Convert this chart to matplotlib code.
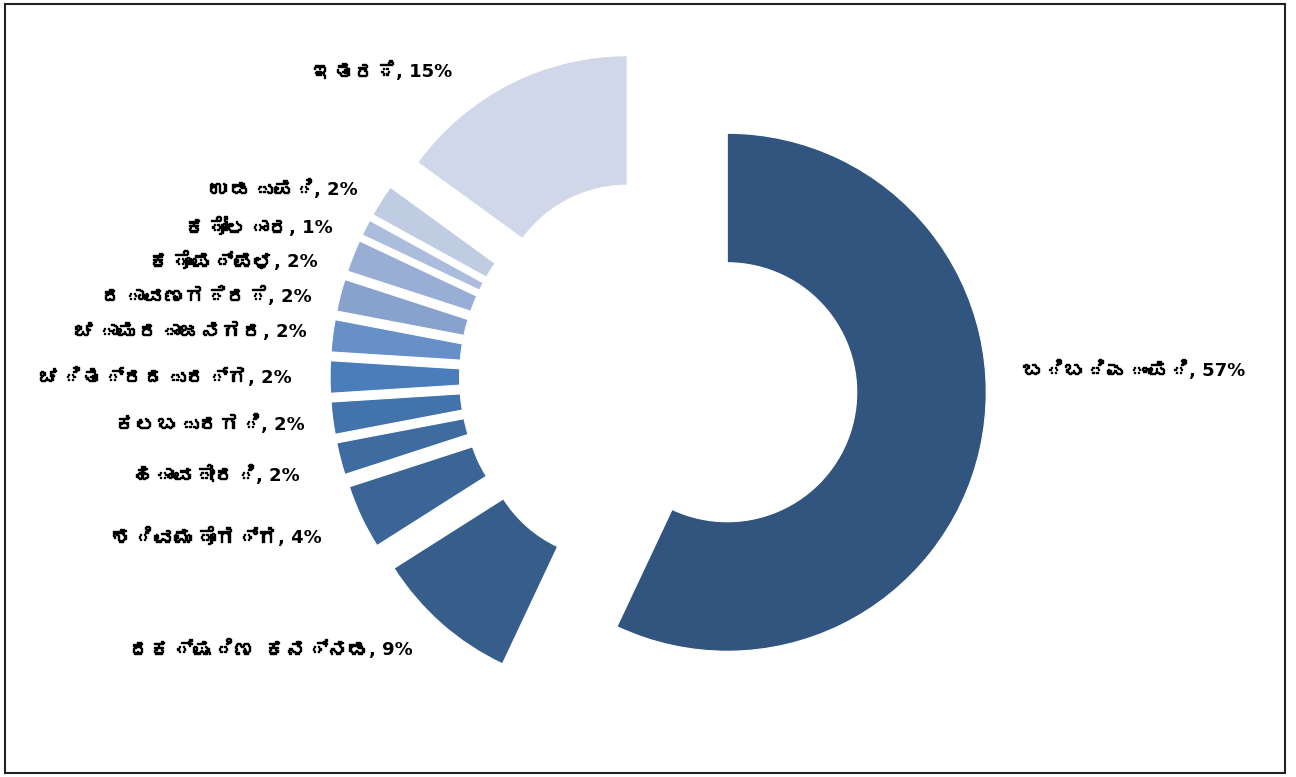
import matplotlib
matplotlib.use('Agg')
import matplotlib.pyplot as plt
import matplotlib.patheffects as pe
from matplotlib import font_manager
from matplotlib.ft2font import FT2Font
from matplotlib.patches import Rectangle
from matplotlib.transforms import IdentityTransform

###DATA###
districts = ['ಬಿಬಿಎಂಪಿ', 'ದಕ್ಷಿಣ ಕನ್ನಡ', 'ಶಿವಮೊಗ್ಗ', 'ಹಾವೇರಿ', 'ಕಲಬುರಗಿ', 'ಚಿತ್ರದುರ್ಗ',
             'ಚಾಮರಾಜನಗರ', 'ದಾವಣಗೆರೆ', 'ಕೊಪ್ಪಳ', 'ಕೋಲಾರ', 'ಉಡುಪಿ', 'ಇತರೆ']
shares = [57, 9, 4, 2, 2, 2, 2, 2, 2, 1, 2, 15]
colors = ['#31557E', '#375D8A', '#3B6596', '#3E6CA1', '#4373AB', '#4A7DBA',
          '#6690C7', '#87A2CD', '#98AED4', '#ABBCDC', '#BFCCE2', '#D0D7E8']

# label anchors in pixels from top-left (x, y, horizontal alignment)
label_px = [(1022, 371, 'left'), (413, 650, 'right'), (322, 538, 'right'),
            (300, 476, 'right'), (305, 425, 'right'), (292, 378, 'right'),
            (307, 332, 'right'), (312, 297, 'right'), (318, 262, 'right'),
            (333, 228, 'right'), (358, 190, 'right'), (452, 72, 'right')]


def find_kannada_font():
    for f in font_manager.findSystemFonts():
        try:
            if ord('ಕ') in FT2Font(f).get_charmap():
                font_manager.fontManager.addfont(f)
                return font_manager.FontProperties(fname=f).get_name()
        except Exception:
            continue
    return None


kn = find_kannada_font()
kn_family = [kn, 'DejaVu Sans'] if kn else ['DejaVu Sans']

W, H = 1296, 777
cx, cy, R = 659, 377, 259  # pie centre and radius in pixels

fig = plt.figure(figsize=(W / 100, H / 100), dpi=100)
ax = fig.add_axes([0, 0, 1, 1])

ax.pie(shares, colors=colors, startangle=90, counterclock=False,
       explode=[0.27] * len(shares), radius=1,
       wedgeprops=dict(width=0.5, edgecolor='white', linewidth=0.8))

ax.set_xlim(-cx / R, (W - cx) / R)
ax.set_ylim(-(H - cy) / R, cy / R)
ax.axis('off')

renderer = fig.canvas.get_renderer()
pix = IdentityTransform()
thick = [pe.withStroke(linewidth=1.0, foreground='k')]
name_kw = dict(fontsize=15, family=kn_family, color='k', path_effects=thick,
               va='center', transform=pix)
val_kw = dict(fontsize=13, fontweight='bold', family='DejaVu Sans', color='k',
              va='center', transform=pix)

for name, val, (px, py, ha) in zip(districts, shares, label_px):
    y = H - py
    if ha == 'right':
        tv = ax.text(px, y, f', {val}%', ha='right', **val_kw)
        x0 = tv.get_window_extent(renderer).x0
        ax.text(x0, y, name, ha='right', **name_kw)
    else:
        tn = ax.text(px, y, name, ha='left', **name_kw)
        x1 = tn.get_window_extent(renderer).x1
        ax.text(x1, y, f', {val}%', ha='left', **val_kw)

# outer frame
fig.patches.append(Rectangle((5 / W, 4 / H), 1280 / W, 769 / H, transform=fig.transFigure,
                             fill=False, edgecolor='#222222', linewidth=1.5))

plt.savefig('out.png', dpi=100)
